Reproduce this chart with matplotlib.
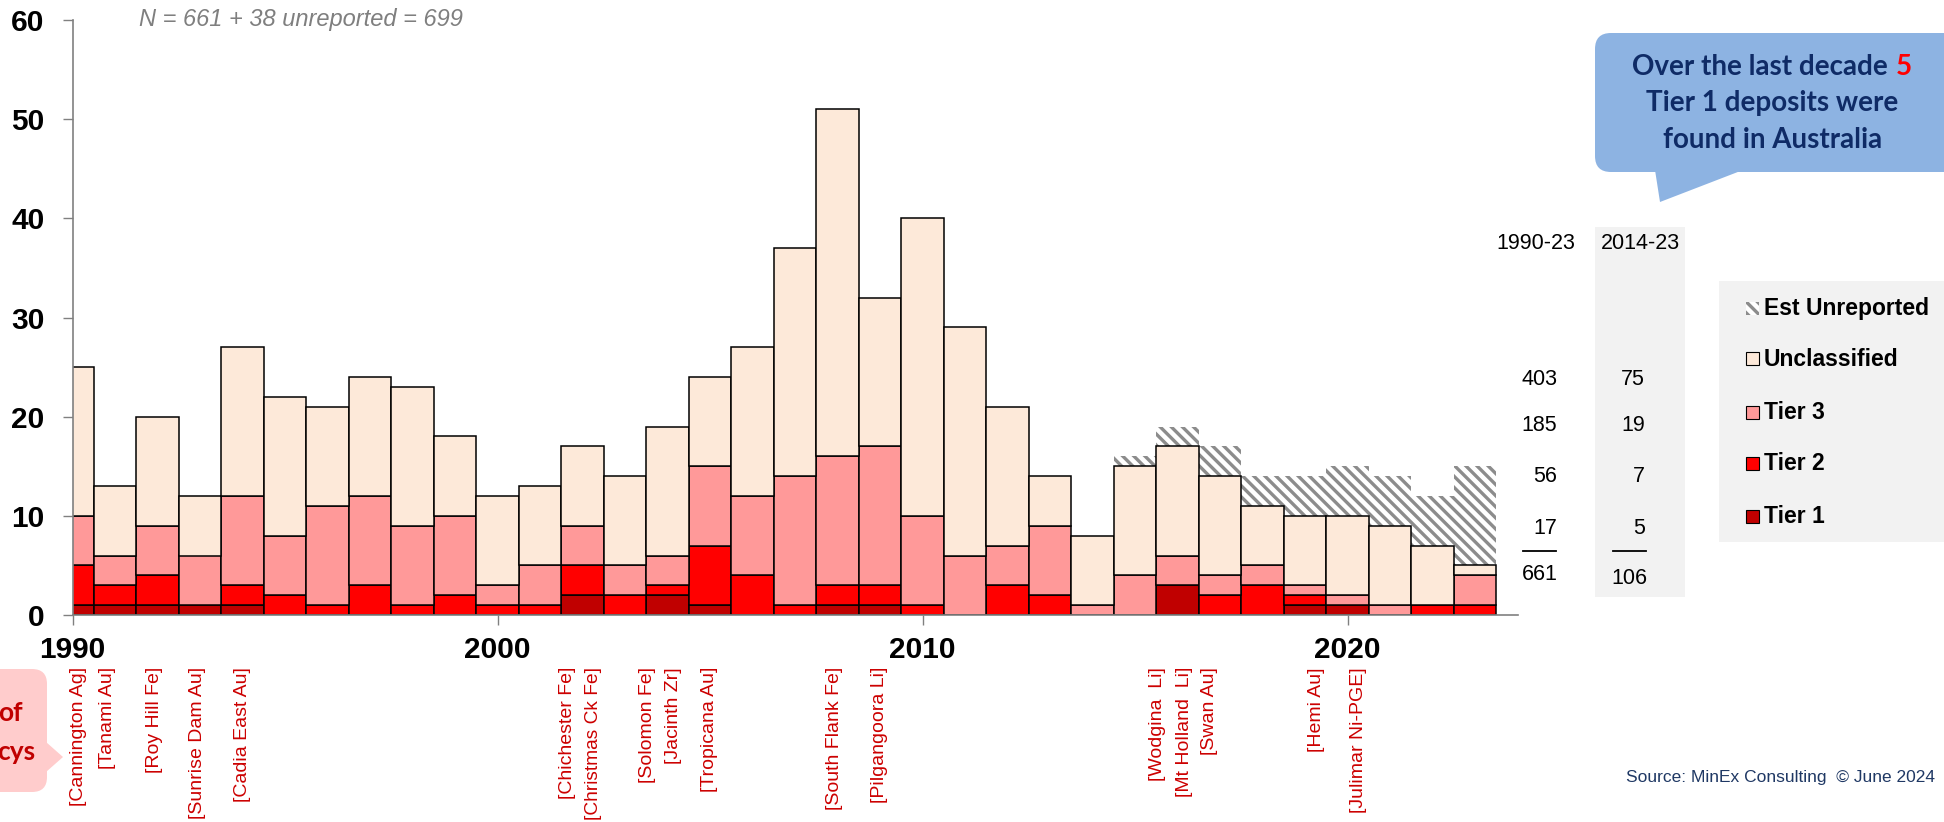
import matplotlib
matplotlib.use("Agg")
import matplotlib.pyplot as plt
import numpy as np
from matplotlib.patches import FancyBboxPatch, Polygon, Rectangle
from matplotlib.lines import Line2D
from matplotlib.text import Annotation
from matplotlib.transforms import Affine2D, blended_transform_factory

W, H = 1944, 822

# discoveries per year, split by deposit class
years = list(range(1990, 2024))
tier1 = [1, 1, 1, 1, 1, 0, 0, 0, 0, 0,
         0, 0, 2, 0, 2, 1, 0, 0, 1, 1,
         0, 0, 0, 0, 0, 0, 3, 0, 0, 1,
         1, 0, 0, 0]
tier2 = [4, 2, 3, 0, 2, 2, 1, 3, 1, 2,
         1, 1, 3, 2, 1, 6, 4, 1, 2, 2,
         1, 0, 3, 2, 0, 0, 0, 2, 3, 1,
         0, 0, 1, 1]
tier3 = [5, 3, 5, 5, 9, 6, 10, 9, 8, 8,
         2, 4, 4, 3, 3, 8, 8, 13, 13, 14,
         9, 6, 4, 7, 1, 4, 3, 2, 2, 1,
         1, 1, 0, 3]
unclassified = [15, 7, 11, 6, 15, 14, 10, 12, 14, 8,
                9, 8, 8, 9, 13, 9, 15, 23, 35, 15,
                30, 23, 14, 5, 7, 11, 11, 10, 6, 7,
                8, 8, 6, 1]
unreported = [0, 0, 0, 0, 0, 0, 0, 0, 0, 0,
              0, 0, 0, 0, 0, 0, 0, 0, 0, 0,
              0, 0, 0, 0, 0, 1, 2, 3, 3, 4,
              5, 5, 5, 10]

# summary table
period_labels = ["1990-23", "2014-23"]
summary_all = [403, 185, 56, 17]
summary_recent = [75, 19, 7, 5]
total_all = 661
total_recent = 106

legend_labels = ["Est Unreported", "Unclassified", "Tier 3", "Tier 2", "Tier 1"]

# tier 1 discoveries named under the axis
deposit_names = ["Cannington Ag", "Tanami Au", "Roy Hill Fe", "Sunrise Dam Au",
                 "Cadia East Au", "Chichester Fe", "Christmas Ck Fe", "Solomon Fe",
                 "Jacinth Zr", "Tropicana Au", "South Flank Fe", "Pilgangoora Li",
                 "Wodgina  Li", "Mt Holland  Li", "Swan Au", "Hemi Au",
                 "Julimar Ni-PGE"]
deposit_years = [1990, 1991, 1992, 1993, 1994, 2002, 2002, 2004, 2004, 2005,
                 2008, 2009, 2016, 2016, 2016, 2019, 2020]

C_T1, C_T2, C_T3, C_UN = "#c00000", "#ff0000", "#ff9999", "#fde9d9"
HATCH = "\\\\\\"

plt.rcParams["font.family"] = ["Liberation Sans", "DejaVu Sans"]
plt.rcParams["hatch.linewidth"] = 2.4
plt.rcParams["hatch.color"] = "#8c8c8c"

fig = plt.figure(figsize=(W / 100, H / 100), dpi=100)
# pixel coordinates measured from the top-left corner
px = Affine2D().scale(1 / W, -1 / H).translate(0, 1) + fig.transFigure

ax = fig.add_axes([72.5 / W, 207 / H, 1445 / W, 595 / H])

x = np.array(years)
bottom = np.zeros(len(x))
for vals, col in [(tier1, C_T1), (tier2, C_T2), (tier3, C_T3), (unclassified, C_UN)]:
    vals = np.array(vals)
    m = vals > 0
    ax.bar(x[m], vals[m], bottom=bottom[m], width=1, color=col,
           edgecolor="black", linewidth=1.1, zorder=2)
    bottom += vals
unrep = np.array(unreported)
m = unrep > 0
ax.bar(x[m], unrep[m], bottom=bottom[m], width=1, facecolor="white",
       edgecolor="#8c8c8c", linewidth=0, hatch=HATCH, zorder=1)

ax.set_xlim(1990, 2024)
ax.set_ylim(0, 60)
ax.set_xticks([1990, 2000, 2010, 2020])
ax.set_yticks(range(0, 61, 10))
for s in ["top", "right"]:
    ax.spines[s].set_visible(False)
for s in ["left", "bottom"]:
    ax.spines[s].set_color("#808080")
    ax.spines[s].set_linewidth(1.2)
ax.tick_params(axis="both", direction="out", length=7, width=1,
               color="#808080", labelsize=21.5)
ax.tick_params(axis="y", pad=13)
ax.tick_params(axis="x", pad=8)
for lab in ax.get_xticklabels() + ax.get_yticklabels():
    lab.set_fontweight("bold")

fig.text(139, 19.5, "N = 661 + 38 unreported = 699", transform=px,
         ha="left", va="center", style="italic", color="#7f7f7f", fontsize=17)

# deposit names, nudged apart where several fall in one year
label_shift = [0.15, -0.18, -0.07, -0.05, -0.01, -0.36, 0.25, -0.48, 0.15, 0.0,
               -0.06, -0.02, -0.47, 0.17, 0.76, 0.27, 0.27]
lab_tf = blended_transform_factory(ax.transData, px)
name_texts = []
for name, yr, dx in zip(deposit_names, deposit_years, label_shift):
    name_texts.append(fig.text(yr + dx, 667, f"[{name}]", transform=lab_tf,
                               rotation=90, ha="center", va="top",
                               color="#cc0000", fontsize=14))
# shrink any name that would run off the bottom edge
renderer = fig.canvas.get_renderer()
for t in name_texts:
    while t.get_window_extent(renderer).y0 < 2 and t.get_fontsize() > 10:
        t.set_fontsize(t.get_fontsize() - 0.2)

# summary table
tab_fs = 15.5
fig.add_artist(Rectangle((1595, 227), 90, 370, transform=px,
                         facecolor="#f2f2f2", edgecolor="none"))
fig.text(1536, 243, period_labels[0], transform=px, ha="center", va="center",
         fontsize=tab_fs)
fig.text(1640, 243, period_labels[1], transform=px, ha="center", va="center",
         fontsize=tab_fs)
row_y = [379, 425, 476, 528]
for yy, a, b in zip(row_y, summary_all, summary_recent):
    fig.text(1557, yy, str(a), transform=px, ha="right", va="center", fontsize=tab_fs)
    fig.text(1645, yy, str(b), transform=px, ha="right", va="center", fontsize=tab_fs)
fig.add_artist(Line2D([1523, 1556], [551, 551], transform=px, color="black", lw=1.3))
fig.add_artist(Line2D([1613, 1646], [551, 551], transform=px, color="black", lw=1.3))
fig.text(1540, 574, str(total_all), transform=px, ha="center", va="center",
         fontsize=tab_fs)
fig.text(1629, 578, str(total_recent), transform=px, ha="center", va="center",
         fontsize=tab_fs)

# legend panel
fig.add_artist(Rectangle((1719, 281), 240, 261, transform=px,
                         facecolor="#f2f2f2", edgecolor="none"))
legend_y = [308, 359, 412, 463, 516]
legend_colors = [None, C_UN, C_T3, C_T2, C_T1]
for yy, lab, col in zip(legend_y, legend_labels, legend_colors):
    if col is None:
        fig.add_artist(Rectangle((1746, yy - 6.5), 13, 13, transform=px,
                                 facecolor="white", edgecolor="#8c8c8c",
                                 linewidth=0, hatch=HATCH))
    else:
        fig.add_artist(Rectangle((1746, yy - 6.5), 13, 13, transform=px,
                                 facecolor=col, edgecolor="black", linewidth=0.8))
    fig.text(1764, yy, lab, transform=px, ha="left", va="center",
             fontsize=16.5, fontweight="bold")

# callout, top right
blue = "#8db3e2"
navy = "#0f2b66"
fig.add_artist(FancyBboxPatch((1595, 33), 420, 139, transform=px,
                              boxstyle="round,pad=0,rounding_size=16",
                              facecolor=blue, edgecolor="none"))
fig.add_artist(Polygon([(1655, 170), (1660, 202), (1743, 170)], closed=True,
                       transform=px, facecolor=blue, edgecolor="none"))
t1 = fig.text(1760, 67, "Over the last decade", transform=px, ha="center",
              va="center", fontsize=20, fontweight="bold", color=navy, family="Lato")
fig.add_artist(Annotation("5", xy=(1, 0.5), xycoords=t1, xytext=(6, 0),
                          textcoords="offset points", ha="left", va="center",
                          fontsize=20, fontweight="bold", color="red",
                          family="Lato", annotation_clip=False))
fig.text(1772.5, 103, "Tier 1 deposits were", transform=px, ha="center",
         va="center", fontsize=20, fontweight="bold", color=navy, family="Lato")
fig.text(1772.5, 140, "found in Australia", transform=px, ha="center",
         va="center", fontsize=20, fontweight="bold", color=navy, family="Lato")

# callout, bottom left
pink = "#ffcccc"
fig.add_artist(FancyBboxPatch((-40, 669), 87, 123, transform=px,
                              boxstyle="round,pad=0,rounding_size=15",
                              facecolor=pink, edgecolor="none"))
fig.add_artist(Polygon([(46, 742), (63, 757), (46, 772)], closed=True,
                       transform=px, facecolor=pink, edgecolor="none"))
fig.text(23, 713, "of", transform=px, ha="right", va="center", fontsize=19,
         fontweight="bold", color="#c00000", family="Lato")
fig.text(35, 752, "cys", transform=px, ha="right", va="center", fontsize=19,
         fontweight="bold", color="#c00000", family="Lato")

fig.text(1626, 777, "Source: MinEx Consulting  \u00a9 June 2024", transform=px,
         ha="left", va="center", fontsize=12.5, color="#1f3864")

fig.savefig("out.png", dpi=100)
